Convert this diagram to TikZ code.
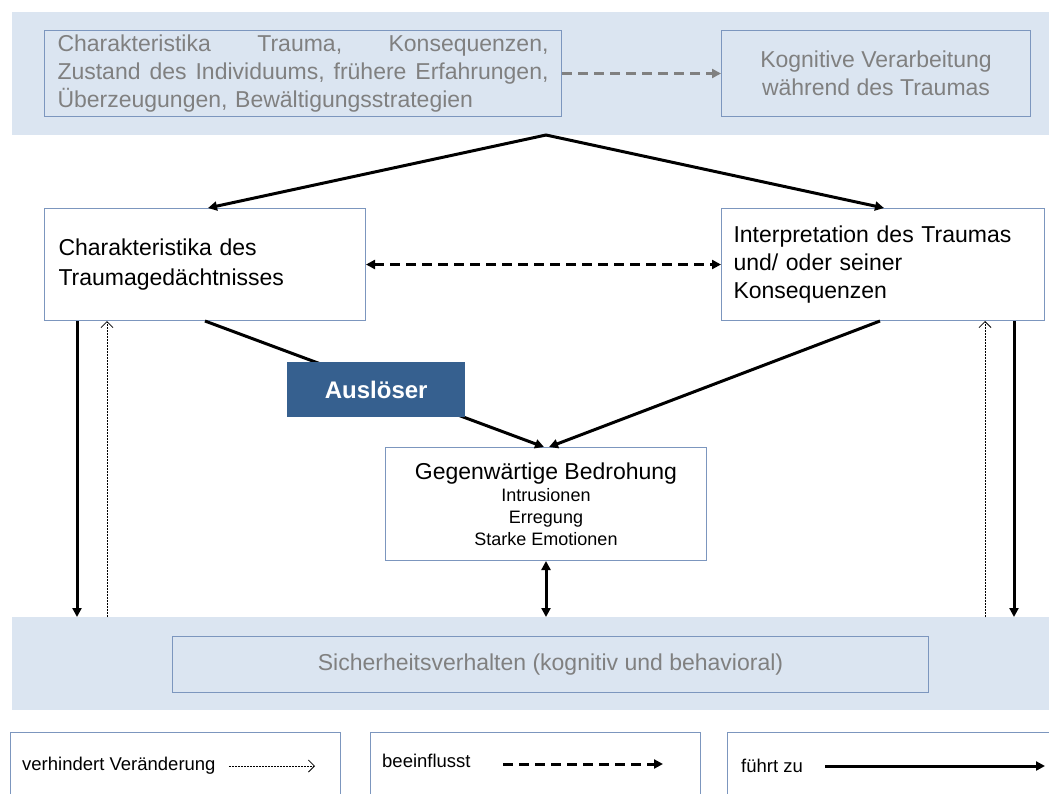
\documentclass[tikz,border=0pt]{standalone}
\usepackage{fontspec}
\setmainfont{Liberation Sans}
\usetikzlibrary{arrows.meta,calc}
\definecolor{bandblue}{RGB}{219,229,241}
\definecolor{frameblue}{RGB}{124,150,190}
\definecolor{greytext}{RGB}{128,128,128}
\definecolor{triggerblue}{RGB}{54,96,143}
% stretchable interword space for the justified lines
\newcommand\jsp{\hskip 0.25em plus 1fil\relax}
\newcommand\jline[1]{\leavevmode\hbox to 491pt{#1}}

\begin{document}
\begin{tikzpicture}[x=1pt,y=-1pt,
  band/.style={fill=bandblue, draw=none, inner sep=0pt, anchor=north west},
  box/.style={draw=frameblue, line width=1pt, fill=white, inner sep=0pt, anchor=north west},
  bigtext/.style={font=\fontsize{23}{28}\selectfont},
  legtext/.style={font=\fontsize{18.5}{22}\selectfont, anchor=west, inner sep=0pt},
  tipA/.style={-{Triangle[length=9pt,width=9pt]}},
  leads/.style={line width=3pt, tipA},
  leadsboth/.style={line width=3pt, {Triangle[length=9pt,width=9pt]}-{Triangle[length=9pt,width=9pt]}},
  influence/.style={line width=3pt, dash pattern=on 10pt off 6pt, tipA},
  influenceboth/.style={line width=3pt, dash pattern=on 10pt off 6pt, {Triangle[length=9pt,width=9pt]}-{Triangle[length=9pt,width=9pt]}},
  prevents/.style={line width=0.8pt, dash pattern=on 2pt off 1pt, -{Straight Barb[length=6pt,width=12pt]}},
]
\clip (0,0) rectangle (1049,793);
\fill[white] (0,0) rectangle (1049,793);

% background bands
\node[band, minimum width=1037pt, minimum height=123pt] (bandTop) at (12,12) {};
\node[band, minimum width=1037pt, minimum height=93pt] (bandBot) at (12,617) {};

% top row
\node[box, fill=bandblue, minimum width=517pt, minimum height=86pt, text=greytext,
      bigtext, align=left, inner xsep=13pt, text width=491pt] (pre) at (44,30)
  {\jline{Charakteristika\jsp Trauma,\jsp Konsequenzen,}\\
   \jline{Zustand\jsp des\jsp Individuums,\jsp frühere\jsp Erfahrungen,}\\
   Überzeugungen, Bewältigungsstrategien};
\node[box, fill=bandblue, minimum width=309pt, minimum height=86pt, text=greytext,
      bigtext, align=center] (cog) at (721,30)
  {Kognitive Verarbeitung\\während des Traumas};
\draw[influence, draw=greytext, color=greytext] (pre.east) -- (cog.west);

% middle row
\node[box, minimum width=321pt, minimum height=112pt, align=left,
      inner xsep=14pt, text width=293pt, font=\fontsize{23}{30}\selectfont] (mem) at (44,208)
  {Charakteristika des\\Traumagedächtnisses};
\node[box, minimum width=323pt, minimum height=112pt, bigtext, align=left,
      inner xsep=12pt, text width=299pt] (interp) at (721,208)
  {Interpretation des Traumas\\und/ oder seiner\\Konsequenzen};
\draw[influenceboth] (mem.east) -- (interp.west);

\coordinate (apex) at (546,135);
\draw[leads, line cap=round] (apex) -- ([xshift=164pt]mem.north west);
\draw[leads, line cap=round] (apex) -- ([xshift=163pt]interp.north west);

% current threat
\node[box, minimum width=321pt, minimum height=113pt] (threat) at (385,447)
  {\parbox{315pt}{\centering
   \fontsize{23}{26}\selectfont Gegenwärtige Bedrohung\par
   \fontsize{18}{22}\selectfont Intrusionen\par Erregung\par Starke Emotionen\par}};

\draw[leads] ([xshift=161pt]mem.south west) -- ([xshift=-2pt]threat.north);
\draw[leads] ([xshift=159pt]interp.south west) -- ([xshift=3pt]threat.north);

% trigger, drawn over the connector
\node[anchor=north west, fill=triggerblue, inner sep=0pt, minimum width=178pt,
      minimum height=55pt, text=white, font=\fontsize{24}{28}\selectfont\bfseries] (trig) at (287,362)
  {Auslöser};

% safety behaviour
\node[box, fill=bandblue, minimum width=756pt, minimum height=56pt, text=greytext, bigtext] (safe) at (172,636)
  {Sicherheitsverhalten (kognitiv und behavioral)};

\draw[leadsboth] (threat.south) -- (threat.south |- bandBot.north);

% left verticals
\draw[leads] ([xshift=33pt]mem.south west) -- ([xshift=33pt]mem.south west |- bandBot.north);
\draw[prevents] ([xshift=63pt]mem.south west |- bandBot.north) -- ([xshift=63pt]mem.south west);
% right verticals
\draw[prevents] ([xshift=-60pt]interp.south east |- bandBot.north) -- ([xshift=-60pt]interp.south east);
\draw[leads] ([xshift=-31pt]interp.south east) -- ([xshift=-31pt]interp.south east |- bandBot.north);

% legend
\node[box, minimum width=330pt, minimum height=80pt] (leg1) at (10,732) {};
\node[box, minimum width=330pt, minimum height=80pt] (leg2) at (370,732) {};
\node[box, minimum width=330pt, minimum height=80pt] (leg3) at (727,732) {};

\node[legtext] (leg1t) at ([xshift=12pt,yshift=-34pt]leg1.north west) {verhindert Veränderung};
\coordinate (leg1e) at ([xshift=305pt,yshift=-34pt]leg1.north west);
\draw[prevents] ([xshift=13pt]leg1t.east) -- (leg1e);

\node[legtext] (leg2t) at ([xshift=12pt,yshift=-29pt]leg2.north west) {beeinflusst};
\coordinate (leg2e) at ([xshift=293pt,yshift=-32pt]leg2.north west);
\draw[influence] ([xshift=133pt,yshift=-32pt]leg2.north west) -- (leg2e);

\node[legtext] (leg3t) at ([xshift=14pt,yshift=-34pt]leg3.north west) {führt zu};
\coordinate (leg3e) at ([xshift=318pt,yshift=-34pt]leg3.north west);
\draw[leads] ([xshift=22pt]leg3t.east) -- (leg3e);
\end{tikzpicture}
\end{document}
